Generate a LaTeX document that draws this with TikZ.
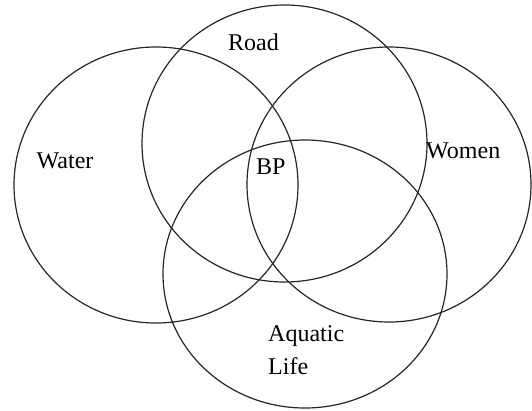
\documentclass[tikz,border=0pt]{standalone}
\usepackage{fontspec}
\setmainfont{Liberation Serif}
\begin{document}
\begin{tikzpicture}[x=1pt,y=-1pt,
  ring/.style={draw=black!85,line width=1.2pt},
  lbl/.style={anchor=base west,inner sep=0pt,font=\fontsize{24}{28}\selectfont}]
\useasboundingbox (0,0) rectangle (532,410);
\draw[ring] (156,185) ellipse [x radius=142,y radius=138];
\draw[ring] (284.5,143.5) ellipse [x radius=142.5,y radius=138.5];
\draw[ring] (389,184.5) ellipse [x radius=142,y radius=137.5];
\draw[ring] (305,274) ellipse [x radius=142,y radius=134];
\node[lbl] (road) at (228,50) {Road};
\node[lbl] (water) at (36.5,168) {Water};
\node[lbl] (bp) at (256,174) {BP};
\node[lbl] (women) at (426,158.5) {Women};
\node[lbl] (aquatic) at (268,341) {Aquatic};
\node[lbl] (life) at (268,374) {Life};
\end{tikzpicture}
\end{document}
